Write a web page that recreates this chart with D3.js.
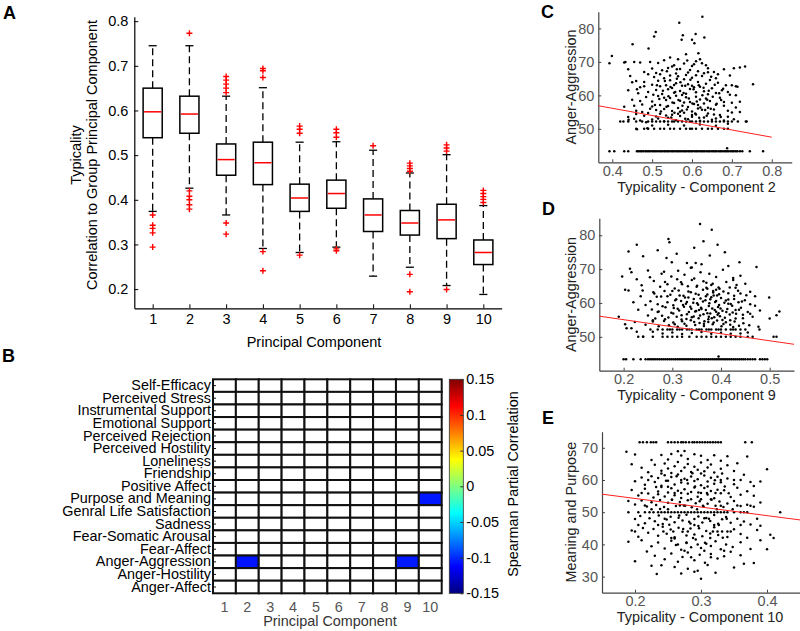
<!DOCTYPE html>
<html lang="en">
<head>
<meta charset="UTF-8">
<title>Typicality and partial correlations</title>
<script src="https://d3js.org/d3.v7.min.js"></script>
<style>
  body { margin: 0; background: #fff; }
  svg { display: block; font-family: "Liberation Sans", Arial, sans-serif; }
  .letter { font-weight: bold; font-size: 18px; }
</style>
</head>
<body>
<div id="chart"></div>
<script>
// ---------- data : panel A (box plots of typicality per component) ----------
const components = [1, 2, 3, 4, 5, 6, 7, 8, 9, 10];
const whiskerHigh = [0.745, 0.745, 0.632, 0.651, 0.529, 0.530, 0.511, 0.460, 0.501, 0.387];
const quart3      = [0.650, 0.632, 0.525, 0.529, 0.435, 0.444, 0.402, 0.376, 0.390, 0.310];
const medians     = [0.597, 0.592, 0.490, 0.483, 0.404, 0.414, 0.366, 0.348, 0.355, 0.282];
const quart1      = [0.539, 0.549, 0.455, 0.434, 0.374, 0.381, 0.329, 0.321, 0.313, 0.255];
const whiskerLow  = [0.374, 0.426, 0.366, 0.291, 0.282, 0.294, 0.229, 0.249, 0.208, 0.188];
const outliers = [
  [0.366, 0.343, 0.336, 0.326, 0.294],
  [0.773, 0.420, 0.408, 0.400, 0.389, 0.379],
  [0.676, 0.668, 0.659, 0.650, 0.640, 0.348, 0.323],
  [0.694, 0.689, 0.674, 0.284, 0.241],
  [0.565, 0.558, 0.549, 0.276],
  [0.558, 0.550, 0.540, 0.290, 0.286],
  [0.521],
  [0.482, 0.476, 0.470, 0.464, 0.233, 0.194],
  [0.523, 0.516, 0.509, 0.199],
  [0.421, 0.414, 0.407, 0.401, 0.394]
];
const typTicks = [0.2, 0.3, 0.4, 0.5, 0.6, 0.7, 0.8];

// ---------- data : panel B (significant Spearman partial correlations) ----------
const measures = ["Self-Efficacy", "Perceived Stress", "Instrumental Support", "Emotional Support",
  "Perceived Rejection", "Perceived Hostility", "Loneliness", "Friendship", "Positive Affect",
  "Purpose and Meaning", "Genral Life Satisfaction", "Sadness", "Fear-Somatic Arousal",
  "Fear-Affect", "Anger-Aggression", "Anger-Hostility", "Anger-Affect"];
const sigCells = [
  { measure: "Purpose and Meaning", pc: 10, r: -0.106 },
  { measure: "Anger-Aggression", pc: 2, r: -0.107 },
  { measure: "Anger-Aggression", pc: 9, r: -0.105 }
];
const cbarTicks = [0.15, 0.1, 0.05, 0, -0.05, -0.1, -0.15];
// jet colour map stops (fraction of range, colour)
const jetStops = [[0, "#000080"], [0.125, "#0000ff"], [0.375, "#00ffff"], [0.625, "#ffff00"], [0.875, "#ff0000"], [1, "#800000"]];

// ---------- data : panel C (Anger-Aggression vs typicality PC2) ----------
const cloudC = [
  [0.393,69.6],[0.399,71.8],[0.433,70.0],[0.451,75.3],[0.509,78.9],[0.505,77.6],[0.491,74.0],[0.568,81.7],
  [0.626,83.5],[0.577,78.0],[0.574,76.6],[0.609,78.3],[0.631,77.3],[0.600,76.6],[0.606,75.6],[0.616,72.6],
  [0.753,63.3],[0.720,68.3],[0.733,68.6],[0.714,62.6],[0.737,52.2],[0.428,52.2],[0.441,52.7],[0.462,49.9],[0.488,50.2],
  [0.430,69.8],[0.440,67.8],[0.455,70.0],[0.470,69.8],[0.480,67.0],[0.495,70.0],[0.500,68.0],[0.510,66.7],
  [0.515,69.7],[0.525,67.5],[0.530,70.5],[0.540,68.2],[0.545,71.3],[0.555,69.0],[0.560,66.5],[0.565,70.8],
  [0.570,67.9],[0.580,69.5],[0.585,72.3],[0.590,66.8],[0.600,68.8],[0.610,70.2],[0.615,67.2],[0.625,69.6],
  [0.630,66.6],[0.640,68.1],[0.655,67.0],[0.665,66.3],[0.680,67.8],[0.695,65.9],[0.705,68.1],
  [0.440,61.5],[0.450,63.9],[0.460,64.3],[0.465,60.6],[0.470,62.4],[0.480,64.0],[0.490,61.0],[0.500,63.2],
  [0.505,65.5],[0.510,61.6],[0.515,64.4],[0.520,62.7],[0.525,60.4],[0.530,65.1],[0.535,63.0],[0.540,61.8],
  [0.545,64.5],[0.550,62.2],[0.555,60.8],[0.560,63.6],[0.565,65.7],[0.570,61.3],[0.575,62.9],[0.580,64.8],
  [0.585,60.5],[0.590,63.3],[0.595,61.9],[0.600,65.3],[0.605,62.4],[0.610,60.9],[0.615,64.0],[0.620,62.6],
  [0.625,65.8],[0.630,61.2],[0.635,63.5],[0.640,60.3],[0.645,64.6],[0.650,62.1],[0.660,60.7],[0.665,63.8],
  [0.675,61.5],[0.685,63.0],[0.695,60.2],[0.710,62.7],[0.545,65.9],[0.575,60.1],[0.610,66.0],
  [0.430,56.6],[0.450,58.7],[0.460,55.4],[0.475,57.3],[0.485,59.5],[0.495,56.0],[0.500,58.2],[0.510,55.6],
  [0.515,59.8],[0.520,57.1],[0.530,55.9],[0.535,58.6],[0.540,56.8],[0.545,59.2],[0.550,55.3],[0.555,57.7],
  [0.560,59.9],[0.565,56.2],[0.570,58.4],[0.575,55.5],[0.580,57.9],[0.585,59.4],[0.590,56.5],[0.595,58.0],
  [0.600,55.2],[0.605,57.4],[0.610,59.6],[0.615,56.1],[0.620,58.8],[0.625,55.7],[0.630,57.6],[0.635,59.1],
  [0.640,56.3],[0.645,58.3],[0.655,55.8],[0.660,57.2],[0.670,59.3],[0.680,56.9],[0.690,55.4],[0.700,57.8],
  [0.710,56.4],[0.720,58.1],
  [0.420,52.2],[0.440,53.5],[0.460,54.4],[0.470,52.5],[0.480,53.9],[0.490,54.7],[0.500,52.8],[0.510,53.7],
  [0.520,54.5],[0.530,52.3],[0.540,53.3],[0.550,54.2],[0.560,52.6],[0.570,53.8],[0.580,54.8],[0.590,52.9],
  [0.600,53.6],[0.610,54.3],[0.620,52.4],[0.630,53.4],[0.640,54.6],[0.650,52.7],[0.660,53.1],[0.670,54.1],
  [0.680,52.5],[0.690,53.6],[0.700,54.9],[0.688,44.2]
];
// denser core of the C cloud
const coreC = [
  [0.503,60.2],[0.507,57.1],[0.512,63.0],[0.518,58.9],[0.522,55.2],[0.527,61.4],[0.532,64.3],[0.536,56.6],
  [0.541,59.7],[0.546,62.5],[0.551,57.9],[0.556,54.8],[0.558,61.0],[0.562,65.0],[0.566,58.6],[0.571,63.9],
  [0.576,56.9],[0.579,60.7],[0.583,62.9],[0.587,55.8],[0.592,59.1],[0.596,64.7],[0.601,57.6],[0.604,61.8],
  [0.608,54.6],[0.612,58.2],[0.617,63.0],[0.621,56.4],[0.626,60.0],[0.629,62.3],[0.633,55.6],[0.638,58.7],
  [0.642,61.4],[0.647,56.0],[0.652,59.6],[0.657,63.2],[0.662,57.5],[0.668,60.6],[0.673,58.6],[0.678,62.0],
  [0.520,66.3],[0.537,67.2],[0.550,68.6],[0.562,67.8],[0.588,70.4],[0.595,67.6],[0.605,69.3],[0.620,70.8],
  [0.635,69.0],[0.648,65.6],[0.515,53.1],[0.535,54.0],[0.548,53.4],[0.565,54.5],[0.583,53.0],[0.600,54.1],
  [0.618,53.3],[0.637,53.9],[0.655,54.3],[0.672,53.5],[0.690,51.5],[0.705,52.9],[0.720,55.0],[0.710,60.0],
  [0.700,63.0],[0.480,62.7],[0.470,58.3],[0.462,61.8],[0.455,56.9],[0.445,65.8],[0.490,66.3],[0.500,56.7],
  [0.530,59.3],[0.555,63.1],[0.600,62.9],[0.615,57.1],[0.585,66.1],[0.570,55.1],[0.640,66.9],[0.660,65.1],
  [0.540,51.2],[0.580,51.0],[0.620,51.3],[0.660,50.9],[0.500,51.0],[0.680,58.0],[0.690,61.0],[0.475,55.0],
  [0.485,52.0],[0.455,53.0]
];
const rowC52 = [0.44,0.46,0.475,0.49,0.5,0.51,0.52,0.53,0.54,0.55,0.555,0.565,0.575,0.585,0.595,0.6,0.61,0.62,0.63,0.64,0.65,0.66,0.67,0.68,0.69,0.7,0.715,0.735];
const rowC50 = [0.46,0.48,0.49,0.505,0.52,0.53,0.545,0.555,0.57,0.585,0.595,0.6,0.61,0.625,0.64,0.65,0.665,0.68,0.69];
const bandC = [0.393,0.405,0.43,0.44,0.462,0.466,0.47,0.474,0.478,0.483,0.487,0.491,0.495,0.5,0.504,0.508,0.512,0.517,
  0.521,0.525,0.53,0.534,0.538,0.542,0.547,0.551,0.555,0.56,0.564,0.568,0.572,0.577,0.581,0.585,0.59,0.594,0.598,0.602,
  0.607,0.611,0.615,0.62,0.624,0.628,0.632,0.637,0.641,0.645,0.65,0.654,0.658,0.662,0.667,0.671,0.675,0.68,0.684,0.688,
  0.692,0.697,0.701,0.705,0.71,0.714,0.72,0.726,0.745,0.778];
const fitC = [[0.365, 56.9], [0.8, 47.5]];

// ---------- data : panel D (Anger-Aggression vs typicality PC9) ----------
const cloudD = [
  [0.197,67.8],[0.210,75.2],[0.227,77.2],[0.240,73.8],[0.270,75.6],[0.292,78.9],[0.294,77.9],[0.357,83.3],
  [0.381,81.6],[0.364,78.2],[0.345,76.3],[0.393,77.2],[0.309,74.5],[0.288,73.3],[0.299,72.0],[0.377,74.0],
  [0.408,75.0],[0.438,72.0],[0.473,70.6],[0.499,61.6],[0.520,57.5],[0.514,56.4],[0.500,55.4],[0.480,57.8],
  [0.470,62.0],[0.449,60.8],[0.508,50.0],[0.514,50.0],[0.477,53.0],[0.479,52.2],[0.458,53.4],[0.203,53.7],
  [0.206,52.5],[0.216,52.5],[0.223,54.4],[0.227,51.5],[0.230,50.0],[0.240,50.0],[0.203,63.9],[0.210,63.7],
  [0.213,70.1],[0.216,69.1],[0.227,67.0],[0.237,65.2],[0.239,63.7],[0.250,69.6],[0.254,67.6],[0.261,63.2],
  [0.268,61.8],[0.278,68.6],[0.285,66.2],[0.190,55.9],[0.340,70.5],[0.348,71.8],[0.430,64.5],[0.425,66.8],
  [0.262,66.5],[0.275,64.8],[0.283,69.2],[0.290,65.5],[0.298,67.8],[0.305,64.3],[0.312,69.5],[0.318,66.1],
  [0.325,68.3],[0.332,64.9],[0.338,70.4],[0.345,67.2],[0.351,65.1],[0.358,69.1],[0.364,66.4],[0.370,64.5],
  [0.376,68.6],[0.383,65.7],[0.390,67.7],[0.397,64.2],[0.404,69.8],[0.411,66.2],[0.418,64.6],[0.425,67.4],
  [0.432,65.3],[0.440,68.0],[0.415,70.9],[0.360,71.4],[0.330,71.8],
  [0.255,60.5],[0.263,62.8],[0.270,59.6],[0.277,61.9],[0.284,63.5],[0.290,60.2],[0.296,62.4],[0.302,59.3],
  [0.308,61.1],[0.313,63.7],[0.318,60.6],[0.323,62.1],[0.328,59.8],[0.333,61.6],[0.338,63.2],[0.343,60.1],
  [0.348,62.7],[0.353,59.5],[0.358,61.3],[0.363,63.9],[0.368,60.8],[0.372,62.5],[0.376,59.9],[0.380,61.7],
  [0.384,63.1],[0.388,60.3],[0.392,62.2],[0.396,59.4],[0.400,61.5],[0.405,63.4],[0.410,60.7],[0.415,62.9],
  [0.420,59.7],[0.427,61.2],[0.435,63.6],[0.443,60.4],[0.452,62.3],[0.460,59.6],
  [0.250,56.3],[0.258,58.1],[0.265,55.4],[0.272,57.5],[0.279,56.2],[0.286,58.7],[0.292,55.7],[0.298,57.1],
  [0.303,58.5],[0.309,55.9],[0.314,57.8],[0.319,56.4],[0.324,58.9],[0.329,55.3],[0.334,57.3],[0.339,58.3],
  [0.344,56.0],[0.349,57.6],[0.354,55.5],[0.359,58.6],[0.364,56.7],[0.369,57.9],[0.374,55.2],[0.378,56.9],
  [0.382,58.4],[0.386,55.8],[0.390,57.4],[0.394,58.8],[0.398,56.1],[0.403,57.7],[0.408,55.6],[0.413,58.2],
  [0.418,56.6],[0.424,57.2],[0.430,55.4],[0.437,58.0],[0.445,56.5],[0.455,57.3],[0.465,55.9],
  [0.245,53.6],[0.260,54.5],[0.272,53.1],[0.283,54.7],[0.293,53.4],[0.302,54.2],[0.311,53.0],[0.320,54.6],
  [0.329,53.3],[0.338,54.9],[0.347,53.5],[0.356,54.1],[0.365,53.2],[0.374,54.4],[0.383,53.7],[0.392,54.8],
  [0.401,53.1],[0.410,54.3],[0.419,53.6],[0.428,54.5],[0.437,53.3],[0.446,54.0],[0.395,44.2]
];
// denser core of the D cloud
const coreD = [
  [0.302,56.9],[0.306,60.8],[0.311,58.3],[0.315,62.2],[0.319,55.1],[0.322,59.4],[0.326,61.6],[0.330,56.7],
  [0.333,63.4],[0.337,58.9],[0.340,55.8],[0.344,61.2],[0.347,57.5],[0.351,59.9],[0.354,62.4],[0.357,56.3],
  [0.360,58.2],[0.363,60.4],[0.366,54.6],[0.369,62.0],[0.372,57.0],[0.375,59.1],[0.378,61.1],[0.381,55.5],
  [0.384,63.5],[0.387,57.9],[0.390,60.6],[0.393,56.5],[0.396,62.6],[0.399,58.4],[0.403,55.0],[0.407,60.1],
  [0.411,57.3],[0.415,61.0],[0.419,54.9],[0.423,59.2],[0.427,62.1],[0.431,56.8],[0.436,60.2],[0.441,58.6],
  [0.372,64.2],[0.380,65.3],[0.390,63.9],[0.385,62.2],[0.395,64.6],[0.370,66.0],[0.350,64.8],[0.340,66.8],
  [0.320,65.5],[0.310,67.0],[0.300,63.5],[0.290,62.0],[0.280,59.0],[0.270,57.3],[0.260,54.9],[0.285,55.2],
  [0.305,53.7],[0.325,53.9],[0.345,54.4],[0.365,53.9],[0.385,54.2],[0.405,53.8],[0.425,52.9],[0.445,55.5],
  [0.455,51.3],[0.440,51.0],[0.420,50.9],[0.400,51.2],[0.380,50.9],[0.360,51.4],[0.340,51.1],[0.320,50.8],
  [0.300,51.3],[0.280,51.0],[0.260,51.5],[0.450,65.7],[0.460,63.3],[0.470,59.2],[0.330,60.3],[0.355,57.9],
  [0.375,55.9],[0.395,57.0],[0.415,59.8],[0.430,57.9],[0.460,56.8],[0.440,62.8],[0.220,60.2],[0.230,58.0],
  [0.235,62.0],[0.245,59.4]
];
const rowD52 = [0.255,0.27,0.28,0.29,0.295,0.3,0.31,0.315,0.32,0.33,0.335,0.34,0.35,0.355,0.36,0.37,0.375,0.38,0.39,0.395,0.4,0.41,0.42,0.425,0.43,0.44,0.45];
const rowD50 = [0.24,0.26,0.28,0.29,0.3,0.31,0.32,0.335,0.35,0.36,0.37,0.38,0.39,0.4,0.41,0.42,0.43,0.44,0.455,0.465];
const bandD = [0.2,0.205,0.22,0.235,0.245,0.25,0.254,0.258,0.262,0.266,0.27,0.274,0.278,0.282,0.286,0.29,0.294,0.298,
  0.302,0.306,0.31,0.314,0.318,0.322,0.326,0.33,0.334,0.338,0.342,0.346,0.35,0.354,0.358,0.362,0.366,0.37,0.374,0.378,
  0.382,0.386,0.39,0.394,0.398,0.402,0.406,0.41,0.414,0.418,0.422,0.426,0.43,0.434,0.438,0.442,0.446,0.45,0.455,0.46,
  0.465,0.47,0.48,0.485,0.49,0.495];
const fitD = [[0.15, 56.1], [0.55, 47.8]];

// ---------- data : panel E (Meaning and Purpose vs typicality PC10) ----------
const cloudE = [
  [0.187,68.8],[0.200,67.9],[0.225,66.2],[0.240,67.8],[0.255,68.1],[0.265,68.9],[0.270,67.6],[0.280,66.5],
  [0.290,68.0],[0.300,67.5],[0.310,66.2],[0.320,67.7],[0.330,66.0],[0.340,67.4],[0.370,67.3],[0.250,66.4],[0.275,69.0],
  [0.210,63.8],[0.220,62.4],[0.230,64.7],[0.240,62.9],[0.245,65.1],[0.250,63.6],[0.255,62.2],[0.260,64.3],
  [0.265,65.6],[0.270,62.8],[0.275,63.9],[0.280,65.0],[0.285,62.5],[0.290,64.1],[0.295,63.2],[0.300,65.4],
  [0.305,62.7],[0.310,63.9],[0.315,64.8],[0.320,62.3],[0.330,63.5],[0.340,64.6],[0.350,62.8],[0.355,65.2],
  [0.400,63.3],[0.195,64.9],
  [0.200,59.6],[0.210,60.8],[0.215,58.5],[0.225,61.2],[0.230,59.4],[0.235,60.6],[0.240,58.2],[0.245,61.5],
  [0.250,59.8],[0.255,60.9],[0.260,58.6],[0.265,61.7],[0.270,59.2],[0.275,60.4],[0.280,58.9],[0.285,61.1],
  [0.290,59.7],[0.295,60.2],[0.300,58.4],[0.305,61.4],[0.310,59.5],[0.315,60.7],[0.320,58.8],[0.325,61.0],
  [0.330,59.3],[0.340,60.5],[0.350,58.7],[0.360,60.0],[0.375,59.4],[0.380,58.1],[0.390,59.5],[0.365,61.6],
  [0.195,56.9],[0.205,55.2],[0.215,57.3],[0.220,55.8],[0.228,54.6],[0.235,56.4],[0.240,57.8],[0.245,54.9],
  [0.250,56.1],[0.255,57.4],[0.260,55.3],[0.265,56.7],[0.270,54.4],[0.275,57.1],[0.280,55.7],[0.285,56.3],
  [0.290,57.7],[0.295,54.8],[0.300,56.0],[0.305,57.5],[0.310,55.5],[0.315,56.6],[0.320,54.3],[0.325,57.0],
  [0.330,55.9],[0.335,56.8],[0.345,54.7],[0.355,57.6],[0.360,55.4],[0.370,56.5],[0.380,55.1],[0.235,55.6],
  [0.190,53.5],[0.200,52.4],[0.210,53.6],[0.218,51.8],[0.225,53.1],[0.232,52.2],[0.238,53.8],[0.244,51.6],
  [0.250,52.9],[0.256,53.9],[0.262,51.9],[0.268,53.2],[0.274,52.1],[0.280,53.7],[0.286,51.5],[0.292,52.8],
  [0.298,53.4],[0.304,51.7],[0.310,52.6],[0.316,53.9],[0.322,52.0],[0.328,53.3],[0.334,51.6],[0.340,52.7],
  [0.350,53.5],[0.360,51.9],[0.370,52.3],[0.380,51.7],[0.390,53.0],
  [0.200,47.9],[0.208,48.8],[0.215,46.6],[0.222,48.1],[0.230,47.2],[0.236,49.0],[0.242,46.3],[0.248,47.7],
  [0.254,48.6],[0.260,46.9],[0.266,48.3],[0.272,47.4],[0.278,49.2],[0.284,46.5],[0.290,47.9],[0.296,48.7],
  [0.302,46.8],[0.308,48.2],[0.314,47.3],[0.320,49.1],[0.326,46.4],[0.332,47.8],[0.338,48.5],[0.345,46.7],
  [0.355,48.0],[0.365,47.1],[0.375,46.2],[0.390,45.8],
  [0.195,44.3],[0.205,42.4],[0.212,45.1],[0.220,43.6],[0.228,44.8],[0.235,42.7],[0.242,45.5],[0.248,43.3],
  [0.254,44.6],[0.260,42.2],[0.266,45.2],[0.272,43.9],[0.278,42.8],[0.284,44.9],[0.290,43.1],[0.296,45.7],
  [0.302,42.5],[0.308,44.2],[0.314,43.4],[0.320,45.3],[0.326,42.9],[0.332,44.0],[0.340,42.3],[0.350,44.7],
  [0.360,43.2],[0.370,42.1],[0.385,44.5],[0.405,43.0],[0.410,42.0],
  [0.190,40.8],[0.210,41.3],[0.225,39.4],[0.235,40.6],[0.245,38.7],[0.255,41.1],[0.262,39.8],[0.270,38.3],
  [0.278,40.4],[0.285,39.1],[0.292,41.5],[0.300,38.9],[0.308,40.2],[0.315,39.5],[0.322,41.0],[0.330,38.5],
  [0.338,40.0],[0.348,39.2],[0.360,40.7],[0.375,38.6],[0.400,38.5],[0.390,41.3],
  [0.200,34.8],[0.230,36.5],[0.245,35.4],[0.255,37.2],[0.265,34.6],[0.272,36.1],[0.280,37.5],[0.290,35.1],
  [0.298,36.8],[0.306,34.3],[0.315,37.0],[0.325,35.6],[0.335,36.3],[0.345,37.7],[0.365,34.0],[0.380,34.2],
  [0.218,37.8],[0.360,36.6],
  [0.233,30.8],[0.300,29.3],[0.270,31.0],[0.290,31.5],[0.322,31.2],[0.350,32.8],[0.240,33.5],[0.260,33.0],
  [0.280,32.4],[0.310,33.6],[0.295,31.8],[0.225,33.4]
];
// denser core of the E cloud (scores fall on near-integer stripes)
const coreE = [
  [0.232,57.8],[0.238,51.0],[0.243,44.0],[0.247,59.8],[0.252,46.1],[0.256,53.9],[0.260,41.8],[0.263,61.2],
  [0.267,49.0],[0.270,56.0],[0.273,44.8],[0.276,52.0],[0.279,60.0],[0.282,47.0],[0.285,54.0],[0.288,42.0],
  [0.291,58.0],[0.294,50.9],[0.297,45.0],[0.300,62.0],[0.303,52.0],[0.306,40.5],[0.309,56.0],[0.312,48.0],
  [0.315,54.0],[0.318,44.0],[0.321,59.9],[0.324,50.9],[0.327,46.0],[0.330,52.0],[0.333,42.1],[0.336,58.0],
  [0.339,48.0],[0.342,55.9],[0.345,44.0],[0.348,50.9],[0.240,62.0],[0.250,57.9],[0.258,44.0],[0.268,52.1],
  [0.278,40.6],[0.287,62.1],[0.296,56.1],[0.305,48.1],[0.314,42.0],[0.322,56.0],[0.332,62.0],[0.250,50.9],
  [0.260,56.0],[0.270,60.0],[0.280,44.0],[0.290,46.0],[0.300,54.0],[0.310,58.0],[0.320,46.0],[0.330,60.0],
  [0.245,48.0],[0.255,42.0],[0.265,40.0],[0.275,38.0],[0.285,36.0],[0.295,40.0],[0.305,38.0],[0.315,36.0],
  [0.325,44.0],[0.335,38.0],[0.235,46.0],[0.225,50.9],[0.215,52.1],[0.210,56.0],[0.220,60.0],[0.200,44.0],
  [0.205,46.0],[0.355,52.1],[0.365,50.0],[0.375,52.0],[0.385,48.0],[0.360,46.0],[0.350,60.0],[0.340,44.0]
];
const rowE50 = [0.19,0.205,0.215,0.222,0.228,0.235,0.24,0.245,0.25,0.255,0.26,0.265,0.27,0.275,0.28,0.285,0.29,0.295,0.3,0.305,0.31,0.315,0.32,0.325,0.33,0.335,0.34,0.35,0.36,0.37,0.42];
const bandE = [0.207,0.212,0.218,0.224,0.228,0.232,0.25,0.255,0.26,0.265,0.27,0.273,0.277,0.282,0.287,0.29,0.294,0.298,0.302,0.306,0.31,0.314,0.318,0.322,0.326,0.33,0.367,0.377];
const fitE = [[0.15, 55.6], [0.45, 47.6]];

// ---------- drawing ----------
const W = 800, H = 631;
const svg = d3.select("#chart").append("svg").attr("width", W).attr("height", H);

function styleAxis(g, lineColor, textColor, size) {
  g.attr("font-family", null).attr("font-size", size);
  g.select(".domain").attr("stroke", lineColor).attr("stroke-width", 1.2);
  g.selectAll(".tick line").attr("stroke", lineColor);
  g.selectAll(".tick text").attr("fill", textColor);
}

// panel letters
[["A", 3, 18.5], ["B", 2, 362], ["C", 541, 17.5], ["D", 542, 215], ["E", 542, 423.5]].forEach(d => {
  svg.append("text").attr("class", "letter").attr("x", d[1]).attr("y", d[2]).text(d[0]);
});

// ===== Panel A =====
const xA = d3.scaleLinear().domain([0.5, 10.5]).range([134.3, 501.7]);
const yA = d3.scaleLinear().domain([0.157, 0.81]).range([308.3, 16.7]);

svg.append("g").attr("transform", "translate(0,308.3)")
  .call(d3.axisBottom(xA).tickValues(components).tickSize(-4).tickSizeOuter(0).tickPadding(5))
  .call(g => styleAxis(g, "#000", "#000", "14.5px"));
svg.append("g").attr("transform", "translate(134.3,0)")
  .call(d3.axisLeft(yA).tickValues(typTicks).tickSize(-4).tickSizeOuter(0).tickPadding(6).tickFormat(d3.format(".1f")))
  .call(g => styleAxis(g, "#000", "#000", "14.5px"));

const boxes = components.map((c, i) => ({
  pc: c, hi: whiskerHigh[i], q3: quart3[i], med: medians[i], q1: quart1[i], lo: whiskerLow[i], out: outliers[i]
}));
const boxHalf = 0.26, capHalf = 0.11;
const bx = svg.append("g").selectAll("g").data(boxes).join("g");
// whiskers
bx.append("line").attr("x1", d => xA(d.pc)).attr("x2", d => xA(d.pc))
  .attr("y1", d => yA(d.q3)).attr("y2", d => yA(d.hi))
  .attr("stroke", "#000").attr("stroke-width", 1.3).attr("stroke-dasharray", "7,4");
bx.append("line").attr("x1", d => xA(d.pc)).attr("x2", d => xA(d.pc))
  .attr("y1", d => yA(d.q1)).attr("y2", d => yA(d.lo))
  .attr("stroke", "#000").attr("stroke-width", 1.3).attr("stroke-dasharray", "7,4");
// caps
bx.append("line").attr("x1", d => xA(d.pc - capHalf)).attr("x2", d => xA(d.pc + capHalf))
  .attr("y1", d => yA(d.hi)).attr("y2", d => yA(d.hi)).attr("stroke", "#000").attr("stroke-width", 1.3);
bx.append("line").attr("x1", d => xA(d.pc - capHalf)).attr("x2", d => xA(d.pc + capHalf))
  .attr("y1", d => yA(d.lo)).attr("y2", d => yA(d.lo)).attr("stroke", "#000").attr("stroke-width", 1.3);
// boxes
bx.append("rect").attr("x", d => xA(d.pc - boxHalf)).attr("width", d => xA(d.pc + boxHalf) - xA(d.pc - boxHalf))
  .attr("y", d => yA(d.q3)).attr("height", d => yA(d.q1) - yA(d.q3))
  .attr("fill", "#fff").attr("stroke", "#000").attr("stroke-width", 1.5);
bx.append("line").attr("x1", d => xA(d.pc - boxHalf) + 1).attr("x2", d => xA(d.pc + boxHalf) - 1)
  .attr("y1", d => yA(d.med)).attr("y2", d => yA(d.med)).attr("stroke", "#ff0000").attr("stroke-width", 1.5);
// outliers as red plus signs
bx.selectAll("path.out").data(d => d.out.map(v => ({ pc: d.pc, v }))).join("path")
  .attr("class", "out")
  .attr("d", d => { const x = xA(d.pc), y = yA(d.v); return `M${x - 3},${y}H${x + 3}M${x},${y - 3}V${y + 3}`; })
  .attr("stroke", "#ff0000").attr("stroke-width", 1.4);

svg.append("text").attr("x", 314).attr("y", 346.5).attr("text-anchor", "middle")
  .style("font-size", "14.5px").text("Principal Component");
svg.append("text").attr("transform", "translate(80.5,155) rotate(-90)").attr("text-anchor", "middle")
  .style("font-size", "14.5px").text("Typicality");
svg.append("text").attr("transform", "translate(97,155) rotate(-90)").attr("text-anchor", "middle")
  .style("font-size", "14.5px").text("Correlation to Group Principal Component");

// ===== Panel B =====
const colB = d3.scaleBand().domain(components).range([213, 441.7]);
const rowB = d3.scaleBand().domain(measures).range([379.3, 593.3]);
const jet = d3.scaleLinear().domain(jetStops.map(s => -0.15 + 0.3 * s[0])).range(jetStops.map(s => s[1]));
const sigLookup = new Map(sigCells.map(d => [d.measure + "|" + d.pc, d.r]));
const cells = [];
measures.forEach(m => components.forEach(c => cells.push({ m, c, r: sigLookup.get(m + "|" + c) })));

svg.append("g").selectAll("rect").data(cells).join("rect")
  .attr("x", d => colB(d.c)).attr("y", d => rowB(d.m))
  .attr("width", colB.bandwidth()).attr("height", rowB.bandwidth())
  .attr("fill", d => d.r === undefined ? "#fff" : jet(d.r))
  .attr("stroke", "#111").attr("stroke-width", 2);

svg.append("g").attr("transform", "translate(213,0)")
  .call(d3.axisLeft(rowB).tickSize(-3).tickSizeOuter(0).tickPadding(2))
  .call(g => { styleAxis(g, "#111", "#000", "14.4px"); g.select(".domain").remove(); });
svg.append("g").attr("transform", "translate(0,593.3)")
  .call(d3.axisBottom(colB).tickSize(0).tickPadding(8))
  .call(g => { styleAxis(g, "#111", "#555", "14.4px"); g.select(".domain").remove(); });
svg.append("text").attr("x", 330).attr("y", 626).attr("text-anchor", "middle")
  .attr("fill", "#333").style("font-size", "14.4px").text("Principal Component");

// colour bar
const cScale = d3.scaleLinear().domain([-0.15, 0.15]).range([593.3, 379.3]);
const grad = svg.append("defs").append("linearGradient").attr("id", "jetGrad")
  .attr("x1", 0).attr("y1", 1).attr("x2", 0).attr("y2", 0);
grad.selectAll("stop").data(jetStops).join("stop")
  .attr("offset", d => d[0]).attr("stop-color", d => d[1]);
svg.append("rect").attr("x", 449.3).attr("y", cScale(0.15)).attr("width", 14)
  .attr("height", cScale(-0.15) - cScale(0.15)).attr("fill", "url(#jetGrad)")
  .attr("stroke", "#333").attr("stroke-width", 0.8);
svg.append("g").attr("transform", "translate(463.3,0)")
  .call(d3.axisRight(cScale).tickValues(cbarTicks).tickSize(-3).tickSizeOuter(0).tickPadding(3).tickFormat(d => String(d)))
  .call(g => { styleAxis(g, "#333", "#000", "14.4px"); g.select(".domain").remove(); });
svg.append("text").attr("transform", "translate(518,484) rotate(-90)").attr("text-anchor", "middle")
  .style("font-size", "14.4px").text("Spearman Partial Correlation");

// ===== Panels C, D, E =====
function scatterPanel(cfg) {
  const x = d3.scaleLinear().domain(cfg.xDomain).range([cfg.left, cfg.right]);
  const y = d3.scaleLinear().domain(cfg.yDomain).range([cfg.bottom, cfg.top]);
  const g = svg.append("g");
  g.append("g").attr("transform", `translate(0,${cfg.bottom})`)
    .call(d3.axisBottom(x).tickValues(cfg.xTicks).tickSize(-3).tickSizeOuter(0).tickPadding(3).tickFormat(d3.format(".1f")))
    .call(a => styleAxis(a, "#444", "#555", "14.5px"));
  g.append("g").attr("transform", `translate(${cfg.left},0)`)
    .call(d3.axisLeft(y).tickValues(cfg.yTicks).tickSize(-3).tickSizeOuter(0).tickPadding(4))
    .call(a => styleAxis(a, "#444", "#555", "14.5px"));
  g.append("g").selectAll("circle").data(cfg.points).join("circle")
    .attr("cx", d => x(d[0])).attr("cy", d => y(d[1])).attr("r", 1.25).attr("fill", "#000");
  g.append("line")
    .attr("x1", x(cfg.fit[0][0])).attr("y1", y(cfg.fit[0][1]))
    .attr("x2", x(cfg.fit[1][0])).attr("y2", y(cfg.fit[1][1]))
    .attr("stroke", "#ff2020").attr("stroke-width", 1);
  g.append("text").attr("x", cfg.xLabelX).attr("y", cfg.bottom + 29.5).attr("text-anchor", "middle")
    .attr("fill", "#222").style("font-size", "14.4px").text(cfg.xLabel);
  g.append("text").attr("transform", `translate(575.5,${(cfg.top + cfg.bottom) / 2}) rotate(-90)`)
    .attr("text-anchor", "middle").attr("fill", "#222").style("font-size", "14.4px").text(cfg.yLabel);
}

scatterPanel({
  xDomain: [0.365, 0.85], yDomain: [40, 85], left: 598.3, right: 791.7, top: 11.7, bottom: 162.3,
  xTicks: [0.4, 0.5, 0.6, 0.7, 0.8], yTicks: [50, 60, 70, 80],
  points: cloudC.concat(coreC, rowC52.map(v => [v, 52.2]), rowC50.map(v => [v, 50.0]), bandC.map(v => [v, 43.3])),
  fit: fitC, xLabel: "Typicality - Component 2", xLabelX: 696.5, yLabel: "Anger-Aggression"
});
scatterPanel({
  xDomain: [0.15, 0.55], yDomain: [40, 85], left: 599.3, right: 794, top: 218.3, bottom: 370.7,
  xTicks: [0.2, 0.3, 0.4, 0.5], yTicks: [50, 60, 70, 80],
  points: cloudD.concat(coreD, rowD52.map(v => [v, 52.2]), rowD50.map(v => [v, 50.0]), bandD.map(v => [v, 43.4])),
  fit: fitD, xLabel: "Typicality - Component 9", xLabelX: 696.5, yLabel: "Anger-Aggression"
});
scatterPanel({
  xDomain: [0.15, 0.45], yDomain: [25, 75], left: 602, right: 800, top: 431.7, bottom: 592.7,
  xTicks: [0.2, 0.3, 0.4], yTicks: [30, 40, 50, 60, 70],
  points: cloudE.concat(coreE, rowE50.map(v => [v, 50.0]), bandE.map(v => [v, 71.7])),
  fit: fitE, xLabel: "Typicality - Component 10", xLabelX: 700, yLabel: "Meaning and Purpose"
});
</script>
</body>
</html>
